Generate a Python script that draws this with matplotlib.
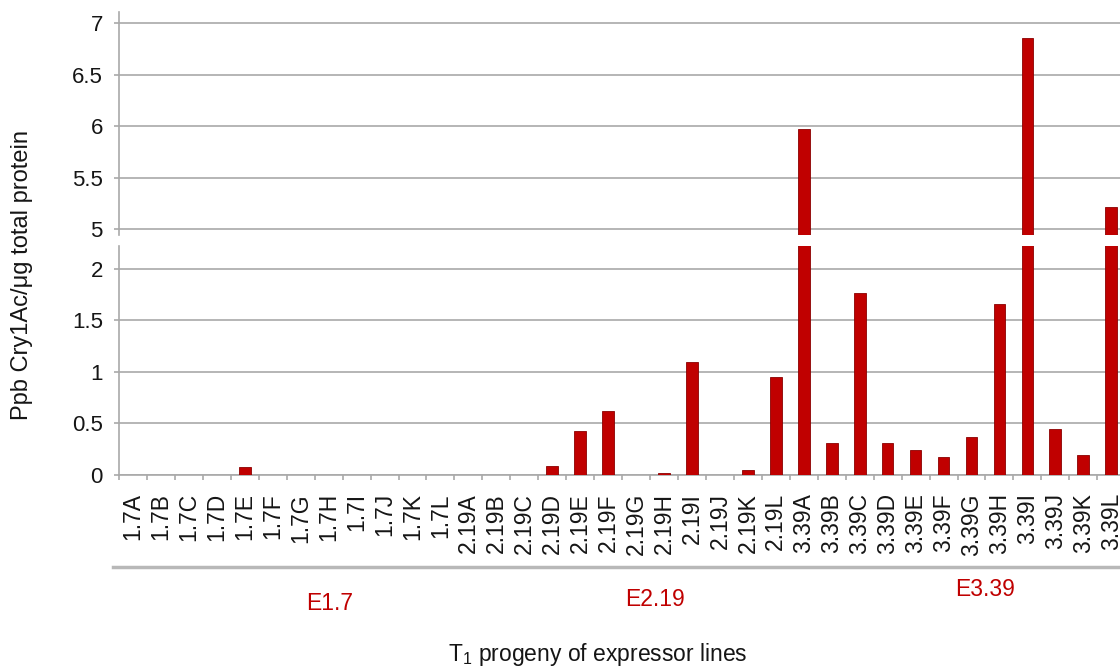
import matplotlib
matplotlib.use("Agg")
import matplotlib.pyplot as plt
import numpy as np
from matplotlib.lines import Line2D
from matplotlib.ticker import FuncFormatter

plt.rcParams['font.family'] = ['Liberation Sans', 'DejaVu Sans']
plt.rcParams['mathtext.fontset'] = 'custom'
plt.rcParams['mathtext.rm'] = 'Liberation Sans'
plt.rcParams['mathtext.default'] = 'regular'

# ---------------- data ----------------
labels_e17 = ["1.7A", "1.7B", "1.7C", "1.7D", "1.7E", "1.7F",
              "1.7G", "1.7H", "1.7I", "1.7J", "1.7K", "1.7L"]
labels_e219 = ["2.19A", "2.19B", "2.19C", "2.19D", "2.19E", "2.19F",
               "2.19G", "2.19H", "2.19I", "2.19J", "2.19K", "2.19L"]
labels_e339 = ["3.39A", "3.39B", "3.39C", "3.39D", "3.39E", "3.39F",
               "3.39G", "3.39H", "3.39I", "3.39J", "3.39K", "3.39L"]

values_e17 = [0, 0, 0, 0, 0.08, 0, 0, 0, 0, 0, 0, 0]
values_e219 = [0, 0, 0, 0.09, 0.43, 0.62, 0, 0.02, 1.10, 0, 0.05, 0.95]
values_e339 = [5.97, 0.31, 1.77, 0.31, 0.24, 0.17, 0.37, 1.66, 6.85, 0.45, 0.19, 5.21]

group_names = ["E1.7", "E2.19", "E3.39"]

upper_ticks = [5, 5.5, 6, 6.5, 7]
lower_ticks = [0, 0.5, 1, 1.5, 2]

categories = labels_e17 + labels_e219 + labels_e339
values = values_e17 + values_e219 + values_e339

# ---------------- layout ----------------
W, H = 1120, 669
fig = plt.figure(figsize=(W / 100, H / 100), dpi=100)


def fy(py):
    return 1 - py / H


step = 27.95
left_px = 119
ax_w = len(categories) * step / W

ax_top = fig.add_axes([left_px / W, fy(235), ax_w, (235 - 12) / H])
ax_bot = fig.add_axes([left_px / W, fy(475), ax_w, (475 - 245.7) / H])

GRID = '#a9a9a9'
BAR = '#c00000'
TXT = '#151515'
x = np.arange(len(categories))

for ax in (ax_top, ax_bot):
    ax.bar(x, values, width=0.42, color=BAR, edgecolor='#8b0000',
           linewidth=0.6, zorder=3)
    ax.set_xlim(-0.5, len(categories) - 0.5)
    ax.set_axisbelow(True)
    ax.yaxis.grid(True, color=GRID, linewidth=1.2)
    for s in ('top', 'right'):
        ax.spines[s].set_visible(False)
    ax.spines['left'].set_color(GRID)
    ax.spines['left'].set_linewidth(1.2)
    ax.tick_params(axis='y', length=3.6, width=1.2, color=GRID,
                   labelsize=16, pad=8, labelcolor=TXT)
    ax.yaxis.set_major_formatter(FuncFormatter(lambda v, p: f"{v:g}"))

ax_top.set_ylim(4.942, 7.107)
ax_top.set_yticks(upper_ticks)
ax_top.spines['bottom'].set_visible(False)
ax_top.tick_params(axis='x', which='both', bottom=False, labelbottom=False)

ax_bot.set_ylim(0, 2.226)
ax_bot.set_yticks(lower_ticks)
ax_bot.spines['bottom'].set_color(GRID)
ax_bot.spines['bottom'].set_linewidth(1.2)
ax_bot.set_xticks(x)
ax_bot.set_xticklabels(categories, rotation=90, fontsize=16.5, color=TXT)
ax_bot.set_xticks(np.arange(-0.5, len(categories), 1), minor=True)
ax_bot.tick_params(axis='x', which='major', length=0, pad=13)
ax_bot.tick_params(axis='x', which='minor', length=3.6, width=1.2, color=GRID)

# group separator line
fig.add_artist(Line2D([113 / W, 1.0], [fy(567), fy(567)],
                      transform=fig.transFigure, color='#b8b8b8', linewidth=2.5))

# group labels
group_pos = [(330, 603), (655, 600), (985, 590)]
for name, (px, py) in zip(group_names, group_pos):
    fig.text(px / W, fy(py), name, color=BAR, fontsize=16.5,
             ha='center', va='center')

fig.text(598 / W, fy(655), "T$_1$ progeny of expressor lines",
         fontsize=16.5, ha='center', va='center', color=TXT)
fig.text(22 / W, fy(275), "Ppb Cry1Ac/\u03bcg total protein", rotation=90,
         fontsize=17, ha='center', va='center', color=TXT)

fig.savefig("out.png", dpi=100)
